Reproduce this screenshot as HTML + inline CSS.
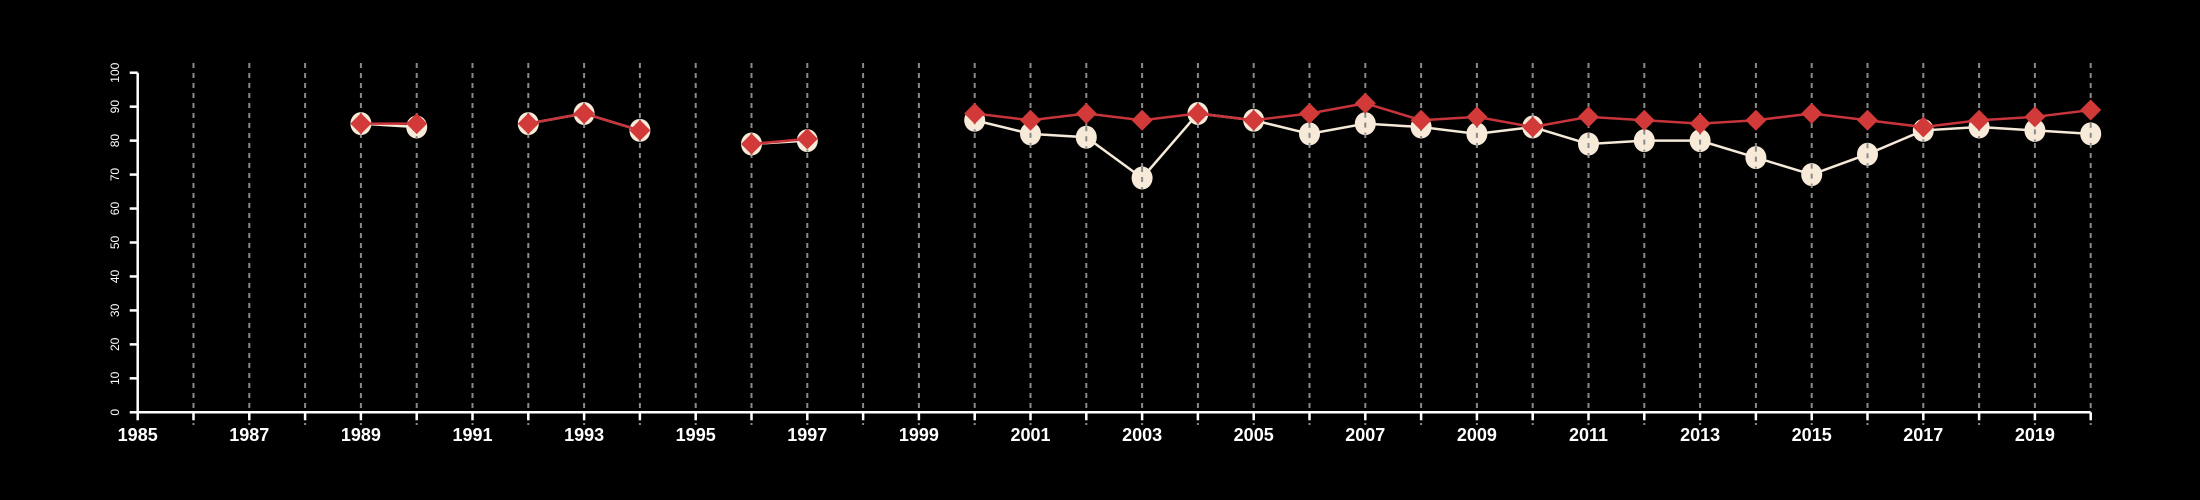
<!DOCTYPE html>
<html><head><meta charset="utf-8"><style>
html,body{margin:0;padding:0;background:#000;}
svg{display:block;font-family:"Liberation Sans",sans-serif;}
</style></head><body>
<svg id="chart" width="2200" height="500" viewBox="0 0 2200 500" xmlns="http://www.w3.org/2000/svg">
<rect width="2200" height="500" fill="#000"/>
<g id="grid"></g>
<g id="axes"></g>
<g id="series"></g>
</svg>
<script>
const years = [1989,1990,1992,1993,1994,1996,1997,2000,2001,2002,2003,2004,2005,2006,2007,2008,2009,2010,2011,2012,2013,2014,2015,2016,2017,2018,2019,2020];
const circleValues = [85,84,85,88,83,79,80,86,82,81,69,88,86,82,85,84,82,84,79,80,80,75,70,76,83,84,83,82];
const diamondValues = [85,85,85,88,83,79,80.5,88,86,88,86,88,86,88,91,86,87,84,87,86,85,86,88,86,84,86,87,89];
const yTicks = [0,10,20,30,40,50,60,70,80,90,100];
const xStart = 1985, xEnd = 2020;

const NS = "http://www.w3.org/2000/svg";
const x = v => 137.7 + (v - xStart) * 55.8;
const y = v => 412.3 - v * 3.396;
function mk(tag, attrs, parent){const e=document.createElementNS(NS,tag);for(const k in attrs)e.setAttribute(k,attrs[k]);parent.appendChild(e);return e;}
const grid=document.getElementById('grid'), axes=document.getElementById('axes'), ser=document.getElementById('series');

for(let yr=xStart+1; yr<=xEnd; yr++){
  const l=mk('line',{x1:x(yr),x2:x(yr),y1:63,y2:425,stroke:'#8a8a8a','stroke-width':2,'stroke-dasharray':'5,5'},grid);
  
  
}
const xa=mk('line',{x1:x(xStart),x2:x(xEnd),y1:y(0),y2:y(0),stroke:'#fff','stroke-width':2.5},axes);


for(let yr=xStart; yr<=xEnd; yr++){
  mk('line',{x1:x(yr),x2:x(yr),y1:y(0),y2:y(0)+8,stroke:'#fff','stroke-width':2.5},axes);
  if((yr-xStart)%2===0){
    const t=mk('text',{x:x(yr),y:441,fill:'#fff','font-size':18,'font-weight':'bold','text-anchor':'middle'},axes);
    t.textContent=yr;
    
    
  }
}
const ya=mk('line',{x1:x(xStart),x2:x(xStart),y1:y(0),y2:y(100),stroke:'#fff','stroke-width':2.5},axes);


yTicks.forEach(v=>{
  mk('line',{x1:x(xStart)-8,x2:x(xStart),y1:y(v),y2:y(v),stroke:'#fff','stroke-width':2.5},axes);
  const t=mk('text',{x:0,y:0,fill:'#fff','font-size':12,'text-anchor':'middle',transform:`translate(119,${y(v)}) rotate(-90)`},axes);
  t.textContent=v;
  
  
});

function segments(vals){
  const segs=[];let cur=[];
  for(let i=0;i<years.length;i++){
    if(i>0 && years[i]-years[i-1]>1){segs.push(cur);cur=[];}
    cur.push([x(years[i]),y(vals[i])]);
  }
  segs.push(cur);return segs;
}
segments(circleValues).forEach(s=>{
  const p=mk('polyline',{points:s.map(q=>q.join(',')).join(' '),fill:'none',stroke:'#f5e9d8','stroke-width':2.5},ser);
  
  
});
years.forEach((yr,i)=>{
  const c=mk('ellipse',{cx:x(yr),cy:y(circleValues[i]),rx:10.5,ry:11.5,fill:'#f8ead8'},ser);
  
  
  mk('line',{x1:x(yr),x2:x(yr),y1:y(circleValues[i])-11,y2:y(circleValues[i])+11,stroke:'#8a8a8a','stroke-width':2,'stroke-dasharray':'5,5'},ser);
});
segments(diamondValues).forEach(s=>{
  const p=mk('polyline',{points:s.map(q=>q.join(',')).join(' '),fill:'none',stroke:'#c8343c','stroke-width':2.5},ser);
  
  
});
years.forEach((yr,i)=>{
  const cx=x(yr), cy=y(diamondValues[i]), r=10.5;
  const d=mk('polygon',{points:`${cx},${cy-r} ${cx+r},${cy} ${cx},${cy+r} ${cx-r},${cy}`,fill:'#d23a3a'},ser);
  
  
});
</script>
</body></html>
